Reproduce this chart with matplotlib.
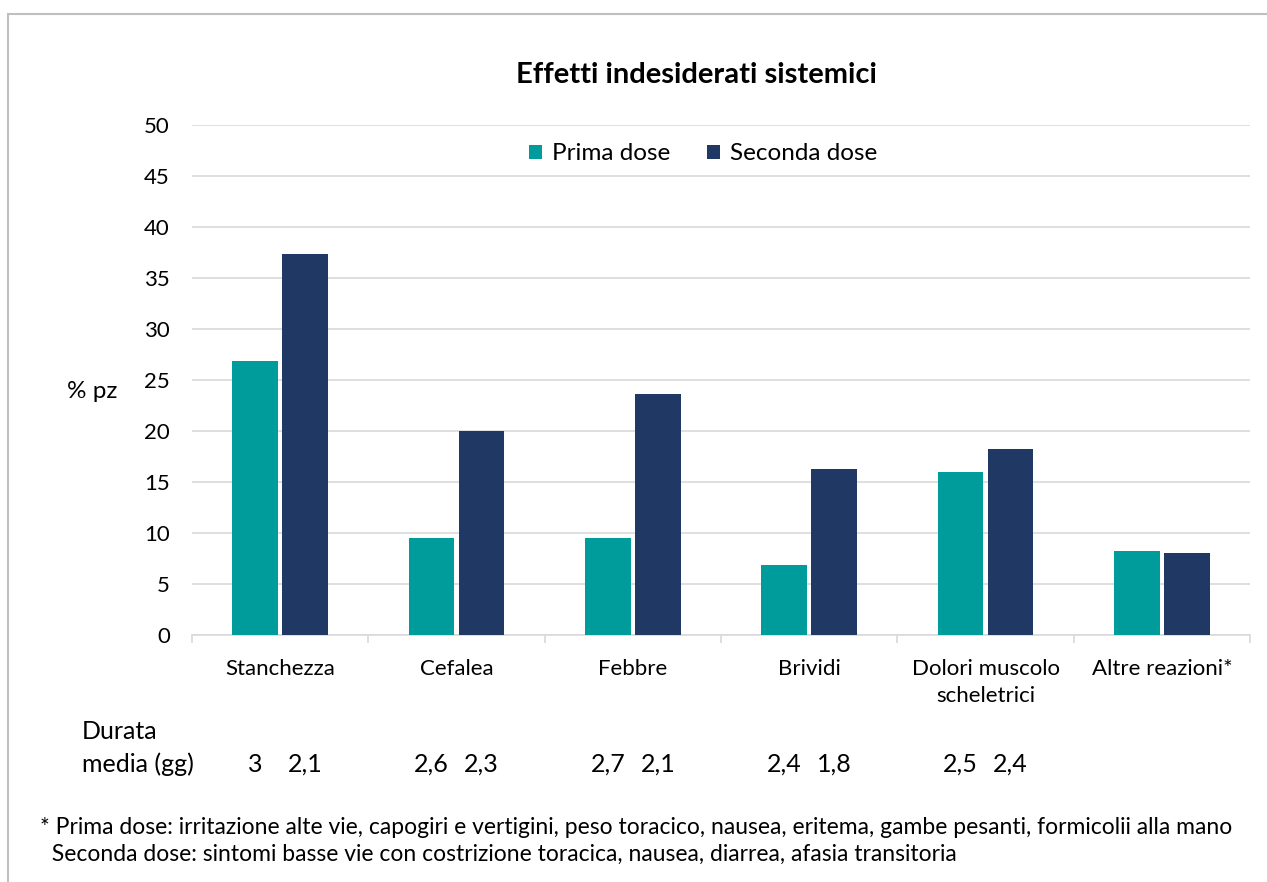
import numpy as np
import matplotlib.pyplot as plt
from matplotlib.patches import Rectangle
import matplotlib.transforms as mtransforms

plt.rcParams['font.family'] = ['Lato', 'DejaVu Sans']

# Dati
categorie = ['Stanchezza', 'Cefalea', 'Febbre', 'Brividi',
             'Dolori muscolo\nscheletrici', 'Altre reazioni*']
prima = [26.9, 9.5, 9.5, 6.9, 16.0, 8.2]
seconda = [37.4, 20.0, 23.6, 16.3, 18.2, 8.0]
durata_prima = ['3', '2,6', '2,7', '2,4', '2,5']
durata_seconda = ['2,1', '2,3', '2,1', '1,8', '2,4']

col_prima = '#009B9B'
col_seconda = '#203864'

fig = plt.figure(figsize=(12.67, 8.82), dpi=100)
ax = fig.add_axes([192/1267, 1 - 635/882, 1058/1267, 510/882])

x = np.arange(len(categorie))
w = 0.26
gap = 0.012
ax.bar(x - w/2 - gap, prima, w, color=col_prima, label='Prima dose', zorder=3)
ax.bar(x + w/2 + gap, seconda, w, color=col_seconda, label='Seconda dose', zorder=3)

ax.set_xlim(-0.5, len(categorie) - 0.5)
ax.set_ylim(0, 50)
ax.set_yticks(np.arange(0, 51, 5))
ax.yaxis.grid(True, color='#D9D9D9', linewidth=1.2, zorder=0)
ax.set_axisbelow(True)
for s in ['top', 'right', 'left']:
    ax.spines[s].set_visible(False)
ax.spines['bottom'].set_color('#D9D9D9')
ax.spines['bottom'].set_linewidth(1.2)

# tick delle categorie ai bordi
ax.set_xticks(np.arange(-0.5, len(categorie), 1.0))
ax.set_xticklabels([])
ax.tick_params(axis='x', which='major', length=6, color='#D9D9D9', width=1.2)
ax.set_xticks(x, minor=True)
ax.set_xticklabels(categorie, minor=True, fontsize=16, va='top', linespacing=1.45)
ax.tick_params(axis='x', which='minor', length=0, pad=17)
ax.tick_params(axis='y', length=0, labelsize=16, pad=16)

# titolo e legenda
fig.text(696/1267, 1 - 75/882, 'Effetti indesiderati sistemici',
         ha='center', va='center', fontsize=21, fontweight='bold')
ax.legend(loc='center', bbox_to_anchor=(703/1267, 1 - 154/882),
          bbox_transform=fig.transFigure, ncol=2, frameon=False,
          fontsize=17.5, handlelength=0.55, handleheight=0.55,
          handletextpad=0.4, columnspacing=1.5)

fig.text(92/1267, 1 - 391/882, '% pz', ha='center', va='center', fontsize=17.5)

# durata media
fig.text(82/1267, 1 - 748/882, 'Durata\nmedia (gg)', ha='left', va='center',
         fontsize=18, linespacing=1.45)
trans = mtransforms.blended_transform_factory(ax.transData, fig.transFigure)
for i in range(len(durata_prima)):
    ax.text(x[i] - w/2 - gap, 1 - 764/882, durata_prima[i], transform=trans,
            ha='center', va='center', fontsize=18)
    ax.text(x[i] + w/2 + gap, 1 - 764/882, durata_seconda[i], transform=trans,
            ha='center', va='center', fontsize=18)

# nota
fig.text(40/1267, 1 - 841/882,
         '* Prima dose: irritazione alte vie, capogiri e vertigini, peso toracico, nausea, eritema, gambe pesanti, formicolii alla mano\n'
         '  Seconda dose: sintomi basse vie con costrizione toracica, nausea, diarrea, afasia transitoria',
         ha='left', va='center', fontsize=16.5, linespacing=1.3)

# cornice
fig.add_artist(Rectangle((8/1267, -0.05), 1.5, 1 - 14/882 + 0.05,
                         transform=fig.transFigure, fill=False,
                         edgecolor='#BFBFBF', linewidth=1.5))

fig.savefig('out.png', dpi=100)
